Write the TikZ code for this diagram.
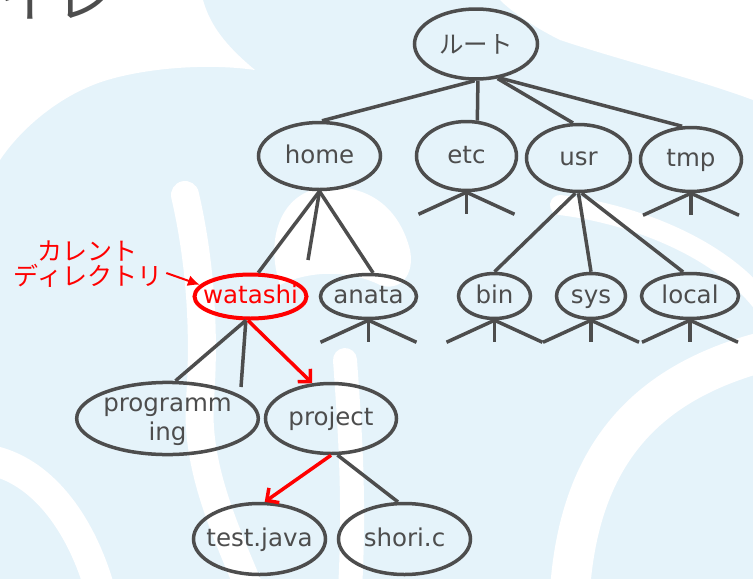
\documentclass[tikz,border=0pt]{standalone}
\usepackage{fontspec}
\setmainfont{DejaVu Sans}
\newfontfamily\jpfont{Noto Sans CJK JP}
\usetikzlibrary{arrows.meta,shapes.geometric}
\definecolor{bgblue}{RGB}{229,243,250}
\definecolor{tgray}{RGB}{77,77,77}
\definecolor{lred}{RGB}{255,0,0}
\newcommand\zw[1]{\makebox[0pt]{#1}}
\begin{document}
\begin{tikzpicture}[x=1pt,y=-1pt,
  dirnode/.style={ellipse, draw=tgray, line width=3.5pt, inner sep=0pt, text=tgray,
    font=\fontsize{24.5}{29}\selectfont, text height=18pt, text depth=4pt, align=center},
  link/.style={draw=tgray, line width=3.5pt},
  redlink/.style={draw=lred, line width=3.5pt, -{Straight Barb[length=9pt,width=18pt]}},
  band/.style={draw=white, line width=#1, line cap=round},
]
\useasboundingbox (0,0) rectangle (753,579);
\clip (0,0) rectangle (753,579);
% background pattern
\fill[bgblue] (0,0) rectangle (753,579);
\fill[white] (0,0) -- (203,0) .. controls (210,25) and (225,45) .. (255,70)
  .. controls (200,62) and (130,70) .. (93,85) .. controls (55,100) and (20,130) .. (0,160) -- cycle;
\fill[white] (280,285) .. controls (265,240) and (280,195) .. (320,188)
  .. controls (370,182) and (400,210) .. (410,250) .. controls (415,275) and (400,292) .. (380,285)
  .. controls (350,270) and (310,270) .. (280,285) -- cycle;
\fill[white] (500,0) -- (753,0) -- (753,100) .. controls (700,80) and (620,60) .. (560,40)
  .. controls (530,25) and (510,10) .. (500,0) -- cycle;
\draw[band=28pt] (185,195) .. controls (200,260) and (205,330) .. (200,400) .. controls (195,470) and (230,540) .. (250,590);
\draw[band=24pt] (345,360) .. controls (350,430) and (355,500) .. (350,590);
\draw[band=30pt] (-10,460) .. controls (40,470) and (80,520) .. (100,590);
\draw[band=40pt] (770,350) .. controls (650,380) and (580,450) .. (570,590);
\draw[band=20pt] (560,205) .. controls (640,215) and (720,250) .. (760,300);
% partial title
\node[anchor=base west, inner sep=0pt, text=tgray, font=\jpfont\fontsize{56}{56}\selectfont] (title) at (-1,17) {イレ};
% nodes
\node[dirnode, minimum width=123pt, minimum height=70pt, text height=21pt, text depth=2pt] (root) at (476,44) {\zw{\jpfont ルート}};
\node[dirnode, minimum width=122pt, minimum height=67pt] (home) at (319.5,156) {\zw{home}};
\node[dirnode, minimum width=100pt, minimum height=69pt] (etc) at (466.5,156) {\zw{etc}};
\node[dirnode, minimum width=104pt, minimum height=67pt] (usr) at (578.5,158) {\zw{usr}};
\node[dirnode, minimum width=101pt, minimum height=64pt] (tmp) at (691,159.5) {\zw{tmp}};
\node[dirnode, draw=lred, text=lred, line width=4pt, minimum width=112pt, minimum height=44pt] (watashi) at (250.5,296.5) {\zw{watashi}};
\node[dirnode, minimum width=96pt, minimum height=44pt] (anata) at (368.5,296.5) {\zw{anata}};
\node[dirnode, minimum width=72pt, minimum height=45pt] (bin) at (494.5,296) {\zw{bin}};
\node[dirnode, minimum width=69pt, minimum height=45pt] (sys) at (591,296) {\zw{sys}};
\node[dirnode, minimum width=97pt, minimum height=45pt] (local) at (690,296) {\zw{local}};
\node[dirnode, minimum width=180pt, minimum height=70pt, text height=47pt, text depth=4pt] (prog) at (167.5,418.5) {programm\\ing};
\node[dirnode, minimum width=131pt, minimum height=70pt] (project) at (331,418.5) {\zw{project}};
\node[dirnode, minimum width=132pt, minimum height=71pt] (testjava) at (259.5,539) {\zw{test.java}};
\node[dirnode, minimum width=132pt, minimum height=71pt] (shori) at (404.5,539) {\zw{shori.c}};
% label
\node[inner sep=0pt, text=lred, align=center, font=\jpfont\fontsize{25}{25}\selectfont] (lbl) at (88,264) {カレント\\ディレクトリ};
\coordinate (hstub) at (308,260);
\coordinate (wstub) at (241,387);
% connectors
\draw[link] (root.-92) -- (home.86);
\draw[link] (root.-87) -- (etc.73);
\draw[link] (root.-58) -- (usr.99);
\draw[link] (root.-55) -- (tmp.105);
\draw[link] (usr.-95) -- (bin.north);
\draw[link] (usr.-90) -- (sys.north);
\draw[link] (usr.-85) -- (local.106);
\draw[link] (home.-90) -- (watashi.72);
\draw[link] (home.-90) -- (hstub);
\draw[link] (home.-90) -- (anata.79);
\draw[link] (watashi.-101) -- (prog.78);
\draw[link] (watashi.-101) -- (wstub);
\draw[redlink] (watashi.-96) -- (project.118);
\draw[redlink] (project.-90) -- (testjava.82);
\draw[link] (project.-80) -- (shori.100);
\draw[draw=lred, line width=2pt, -{Latex[length=12pt,width=11pt]}] ([xshift=4pt,yshift=-9pt]lbl.east) -- (watashi.167);
% stubs under collapsed directories
\foreach \n in {etc,tmp,anata,bin,sys,local}{
  \draw[link] (\n.south) -- ++(-48,22);
  \draw[link] (\n.south) -- ++(0,22);
  \draw[link] (\n.south) -- ++(48,22);
}
\end{tikzpicture}
\end{document}
